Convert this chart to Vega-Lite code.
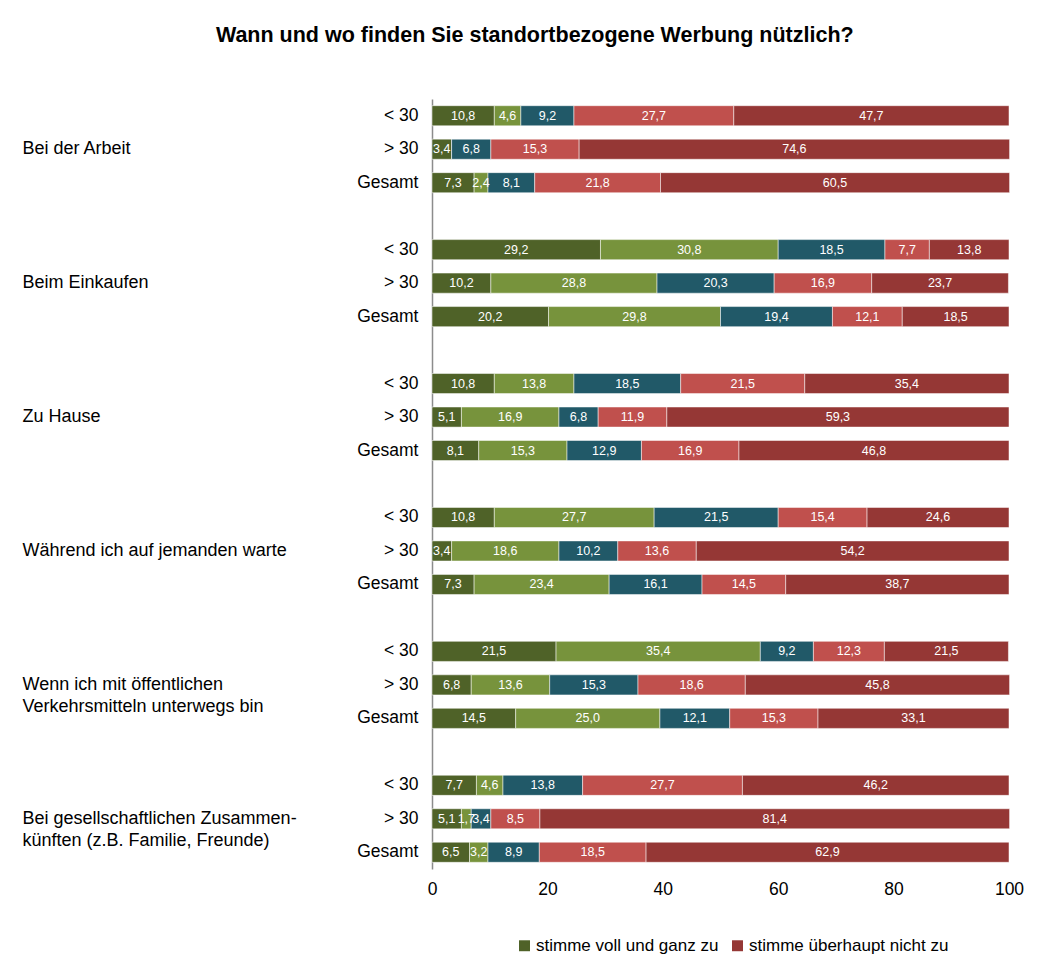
{
  "$schema": "https://vega.github.io/schema/vega-lite/v6.json",
  "width": 577,
  "height": 770,
  "padding": {"left": 22, "top": 24, "right": 40, "bottom": 8},
  "background": "white",
  "config": {
    "font": "Liberation Sans",
    "view": {"stroke": null},
    "locale": {"number": {"decimal": ",", "thousands": ".", "grouping": [3], "currency": ["", " €"]}}
  },
  "title": {
    "text": "Wann und wo finden Sie standortbezogene Werbung nützlich?",
    "frame": "bounds",
    "anchor": "middle",
    "fontSize": 21.5,
    "fontWeight": "bold",
    "font": "Liberation Sans",
    "color": "#000000",
    "offset": 53,
    "dx": 12
  },
  "data": {
    "values": [
      {"g": "Bei der Arbeit", "a": "< 30", "stimme voll und ganz zu": 10.8, "stimme eher zu": 4.6, "teils, teils": 9.2, "stimme eher nicht zu": 27.7, "stimme überhaupt nicht zu": 47.7},
      {"g": "Bei der Arbeit", "a": "> 30", "stimme voll und ganz zu": 3.4, "stimme eher zu": 0, "teils, teils": 6.8, "stimme eher nicht zu": 15.3, "stimme überhaupt nicht zu": 74.6},
      {"g": "Bei der Arbeit", "a": "Gesamt", "stimme voll und ganz zu": 7.3, "stimme eher zu": 2.4, "teils, teils": 8.1, "stimme eher nicht zu": 21.8, "stimme überhaupt nicht zu": 60.5},
      {"g": "Beim Einkaufen", "a": "< 30", "stimme voll und ganz zu": 29.2, "stimme eher zu": 30.8, "teils, teils": 18.5, "stimme eher nicht zu": 7.7, "stimme überhaupt nicht zu": 13.8},
      {"g": "Beim Einkaufen", "a": "> 30", "stimme voll und ganz zu": 10.2, "stimme eher zu": 28.8, "teils, teils": 20.3, "stimme eher nicht zu": 16.9, "stimme überhaupt nicht zu": 23.7},
      {"g": "Beim Einkaufen", "a": "Gesamt", "stimme voll und ganz zu": 20.2, "stimme eher zu": 29.8, "teils, teils": 19.4, "stimme eher nicht zu": 12.1, "stimme überhaupt nicht zu": 18.5},
      {"g": "Zu Hause", "a": "< 30", "stimme voll und ganz zu": 10.8, "stimme eher zu": 13.8, "teils, teils": 18.5, "stimme eher nicht zu": 21.5, "stimme überhaupt nicht zu": 35.4},
      {"g": "Zu Hause", "a": "> 30", "stimme voll und ganz zu": 5.1, "stimme eher zu": 16.9, "teils, teils": 6.8, "stimme eher nicht zu": 11.9, "stimme überhaupt nicht zu": 59.3},
      {"g": "Zu Hause", "a": "Gesamt", "stimme voll und ganz zu": 8.1, "stimme eher zu": 15.3, "teils, teils": 12.9, "stimme eher nicht zu": 16.9, "stimme überhaupt nicht zu": 46.8},
      {"g": "Während ich auf jemanden warte", "a": "< 30", "stimme voll und ganz zu": 10.8, "stimme eher zu": 27.7, "teils, teils": 21.5, "stimme eher nicht zu": 15.4, "stimme überhaupt nicht zu": 24.6},
      {"g": "Während ich auf jemanden warte", "a": "> 30", "stimme voll und ganz zu": 3.4, "stimme eher zu": 18.6, "teils, teils": 10.2, "stimme eher nicht zu": 13.6, "stimme überhaupt nicht zu": 54.2},
      {"g": "Während ich auf jemanden warte", "a": "Gesamt", "stimme voll und ganz zu": 7.3, "stimme eher zu": 23.4, "teils, teils": 16.1, "stimme eher nicht zu": 14.5, "stimme überhaupt nicht zu": 38.7},
      {"g": "Wenn ich mit öffentlichen\nVerkehrsmitteln unterwegs bin", "a": "< 30", "stimme voll und ganz zu": 21.5, "stimme eher zu": 35.4, "teils, teils": 9.2, "stimme eher nicht zu": 12.3, "stimme überhaupt nicht zu": 21.5},
      {"g": "Wenn ich mit öffentlichen\nVerkehrsmitteln unterwegs bin", "a": "> 30", "stimme voll und ganz zu": 6.8, "stimme eher zu": 13.6, "teils, teils": 15.3, "stimme eher nicht zu": 18.6, "stimme überhaupt nicht zu": 45.8},
      {"g": "Wenn ich mit öffentlichen\nVerkehrsmitteln unterwegs bin", "a": "Gesamt", "stimme voll und ganz zu": 14.5, "stimme eher zu": 25.0, "teils, teils": 12.1, "stimme eher nicht zu": 15.3, "stimme überhaupt nicht zu": 33.1},
      {"g": "Bei gesellschaftlichen Zusammen-\nkünften (z.B. Familie, Freunde)", "a": "< 30", "stimme voll und ganz zu": 7.7, "stimme eher zu": 4.6, "teils, teils": 13.8, "stimme eher nicht zu": 27.7, "stimme überhaupt nicht zu": 46.2},
      {"g": "Bei gesellschaftlichen Zusammen-\nkünften (z.B. Familie, Freunde)", "a": "> 30", "stimme voll und ganz zu": 5.1, "stimme eher zu": 1.7, "teils, teils": 3.4, "stimme eher nicht zu": 8.5, "stimme überhaupt nicht zu": 81.4},
      {"g": "Bei gesellschaftlichen Zusammen-\nkünften (z.B. Familie, Freunde)", "a": "Gesamt", "stimme voll und ganz zu": 6.5, "stimme eher zu": 3.2, "teils, teils": 8.9, "stimme eher nicht zu": 18.5, "stimme überhaupt nicht zu": 62.9}
    ]
  },
  "transform": [
    {"fold": ["stimme voll und ganz zu", "stimme eher zu", "teils, teils", "stimme eher nicht zu", "stimme überhaupt nicht zu"], "as": ["c", "v"]},
    {"calculate": "datum.g + '|' + datum.a", "as": "key"},
    {"calculate": "indexof(['stimme voll und ganz zu', 'stimme eher zu', 'teils, teils', 'stimme eher nicht zu', 'stimme überhaupt nicht zu'], datum.c)", "as": "k"},
    {"stack": "v", "groupby": ["key"], "sort": [{"field": "k", "order": "ascending"}], "as": ["v0", "v1"]},
    {"calculate": "(datum.v0 + datum.v1) / 2", "as": "mid"}
  ],
  "layer": [
    {
      "mark": {"type": "bar", "stroke": "white", "strokeWidth": 0.5},
      "encoding": {
        "y": {
          "field": "key",
          "type": "nominal",
          "sort": null,
          "scale": {
            "domain": [
              "Bei der Arbeit|< 30", "Bei der Arbeit|> 30", "Bei der Arbeit|Gesamt", "_1",
              "Beim Einkaufen|< 30", "Beim Einkaufen|> 30", "Beim Einkaufen|Gesamt", "_2",
              "Zu Hause|< 30", "Zu Hause|> 30", "Zu Hause|Gesamt", "_3",
              "Während ich auf jemanden warte|< 30", "Während ich auf jemanden warte|> 30", "Während ich auf jemanden warte|Gesamt", "_4",
              "Wenn ich mit öffentlichen\nVerkehrsmitteln unterwegs bin|< 30", "Wenn ich mit öffentlichen\nVerkehrsmitteln unterwegs bin|> 30", "Wenn ich mit öffentlichen\nVerkehrsmitteln unterwegs bin|Gesamt", "_5",
              "Bei gesellschaftlichen Zusammen-\nkünften (z.B. Familie, Freunde)|< 30", "Bei gesellschaftlichen Zusammen-\nkünften (z.B. Familie, Freunde)|> 30", "Bei gesellschaftlichen Zusammen-\nkünften (z.B. Familie, Freunde)|Gesamt"
            ],
            "paddingInner": 0.4,
            "paddingOuter": 0.2
          },
          "axis": {
            "orient": "left",
            "title": null,
            "labelExpr": "indexof(datum.value, '|') > 0 ? split(datum.value, '|')[1] : ''",
            "labelFont": "Liberation Sans",
            "labelFontSize": 17.5,
            "labelColor": "#000000",
            "labelPadding": 14,
            "ticks": false,
            "domain": true,
            "domainColor": "#8c8c8c",
            "domainWidth": 1.5,
            "grid": false
          }
        },
        "x": {
          "field": "v0",
          "type": "quantitative",
          "scale": {"domain": [0, 100], "nice": false},
          "axis": {
            "title": null,
            "values": [0, 20, 40, 60, 80, 100],
            "format": "d",
            "grid": false,
            "domain": false,
            "ticks": false,
            "labelFlush": false,
            "labelFont": "Liberation Sans",
            "labelFontSize": 17.5,
            "labelColor": "#000000",
            "labelPadding": 11
          }
        },
        "x2": {"field": "v1"},
        "color": {
          "field": "c",
          "type": "nominal",
          "scale": {
            "domain": ["stimme voll und ganz zu", "stimme eher zu", "teils, teils", "stimme eher nicht zu", "stimme überhaupt nicht zu"],
            "range": ["#4f6228", "#77933c", "#215968", "#c0504d", "#953735"]
          },
          "legend": {
            "values": ["stimme voll und ganz zu", "stimme überhaupt nicht zu"],
            "orient": "none",
            "legendX": 84,
            "legendY": 838,
            "direction": "horizontal",
            "title": null,
            "symbolType": "square",
            "symbolSize": 120,
            "symbolStrokeWidth": 0,
            "labelFont": "Liberation Sans",
            "labelFontSize": 17,
            "labelColor": "#000000",
            "labelLimit": 400,
            "labelOffset": 3,
            "columnPadding": 10
          }
        }
      }
    },
    {
      "transform": [{"filter": "datum.v > 0"}],
      "mark": {"type": "text", "color": "white", "fontSize": 12.5, "font": "Liberation Sans"},
      "encoding": {
        "y": {
          "field": "key",
          "type": "nominal",
          "sort": null,
          "axis": {
            "orient": "left",
            "title": null,
            "labelExpr": "split(datum.value, '|')[1] == '> 30' ? split(split(datum.value, '|')[0], '\\n') : ''",
            "labelAlign": "left",
            "labelPadding": 410,
            "labelFont": "Liberation Sans",
            "labelFontSize": 18,
            "labelLineHeight": 22,
            "labelColor": "#000000",
            "labelLimit": 400,
            "ticks": false,
            "domain": false,
            "grid": false
          }
        },
        "x": {"field": "mid", "type": "quantitative"},
        "text": {"field": "v", "type": "quantitative", "format": ".1f"}
      }
    }
  ],
  "resolve": {"axis": {"y": "independent"}}
}
